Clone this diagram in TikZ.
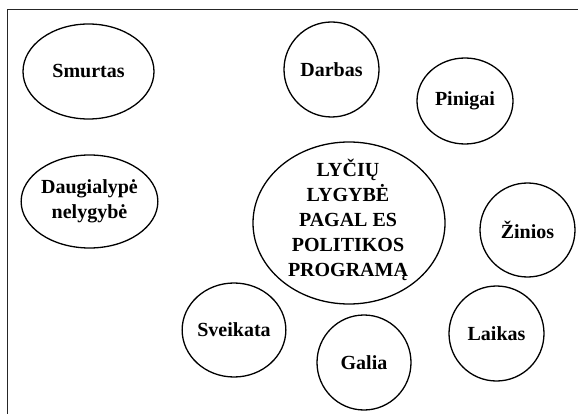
\documentclass[tikz,border=0pt]{standalone}
\usepackage{fontspec}
\setmainfont{Liberation Serif}
\usetikzlibrary{shapes.geometric}
\begin{document}
\begin{tikzpicture}[x=1pt,y=-1pt,
  bub/.style={draw=black, line width=1.3pt, ellipse, inner sep=0pt,
    font=\bfseries\fontsize{20}{24.5}\selectfont, align=center},
  frame/.style={draw=black!85, line width=0.9pt}]
\useasboundingbox (0,0) rectangle (578,414);
\coordinate (fb) at (7,414);
\coordinate (fc) at (7,9);
\coordinate (fr) at (578,9);
\draw[frame] (fb) -- (fc) -- (fr);
\node[bub, minimum width=131, minimum height=95] (smurtas) at (88.5,71.5) {Smurtas};
\node[bub, minimum width=133, minimum height=93] (daug) at (89.5,201.5) {Daugialypė\\nelygybė};
\node[bub, minimum width=95, minimum height=95] (darbas) at (331.5,69.5) {Darbas};
\node[bub, minimum width=96, minimum height=86] (pinigai) at (465,101) {Pinigai};
\node[bub, minimum width=95, minimum height=94] (zinios) at (527.5,230) {Žinios};
\node[bub, minimum width=95, minimum height=95] (laikas) at (496.5,333.5) {Laikas};
\node[bub, minimum width=192, minimum height=162] (main) at (349,223) {};
\node[font=\bfseries\fontsize{20}{25}\selectfont, align=center] (maintext) at (348,220) {LYČIŲ\\LYGYBĖ\\PAGAL ES\\POLITIKOS\\PROGRAMĄ};
\node[bub, minimum width=94, minimum height=94] (sveikata) at (234,330) {Sveikata};
\node[bub, minimum width=94, minimum height=95] (galia) at (364,362.5) {Galia};
\end{tikzpicture}
\end{document}
